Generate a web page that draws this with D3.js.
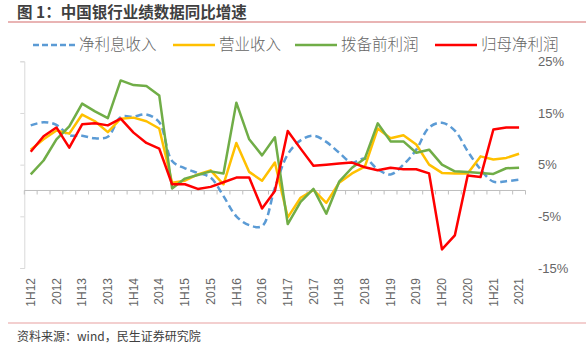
<!doctype html>
<html>
<head>
<meta charset="utf-8">
<script src="https://cdn.jsdelivr.net/npm/d3@7/dist/d3.min.js"></script>
<style>
  body { margin: 0; background: #fff; }
  svg { display: block; font-family: "Liberation Sans", "Noto Sans CJK SC", sans-serif; }
</style>
</head>
<body>
<svg id="chart" width="586" height="345"></svg>
<script>
// quarters from 1H12 to 2021, only every other one gets a label
const quarters = []
for (let y = 12; y <= 21; y++) {
    const q = y == 12 ? ['1H', '3Q', 'FY'] : ['1Q', '1H', '3Q', 'FY']
    q.forEach(p => quarters.push(p == 'FY' ? '20' + y : p + y))
}
const seriesNames = ['净利息收入', '营业收入', '拨备前利润', '归母净利润']
const yTicks = [25, 15, 5, -5, -15]

// 净利息收入
const nii = [12.6, 13.2, 12.7, 10.7, 10.6, 10.1, 10.4, 14.2, 14.3, 14.7, 13.2, 5.7, 4.3, 3.4, 2.5, -1.1,
    -5.0, -6.7, -6.9, 0.5, 7.0, 9.7, 10.6, 9.4, 7.3, 5.4, 6.2, 4.1, 3.1, 5.0, 7.9, 12.2, 13.1, 11.6,
    7.6, 4.1, 1.7, 1.8, 2.1]
// 营业收入
const rev = [7.9, 9.9, 11.6, 11.0, 14.7, 13.4, 11.3, 13.9, 14.1, 13.4, 12.0, 1.5, 1.9, 3.1, 3.9, 1.2,
    9.2, 3.6, 1.9, 5.4, -5.2, -1.4, 0.1, -2.4, 1.5, 3.3, 4.6, 12.0, 10.1, 10.7, 8.9, 5.0, 3.4, 3.3,
    3.3, 6.6, 6.0, 6.3, 7.1]
// 拨备前利润
const ppop = [3.1, 5.8, 9.9, 12.4, 16.8, 15.3, 14.0, 21.3, 20.4, 20.2, 18.4, 0.4, 2.3, 3.0, 3.7, 3.3,
    17.0, 9.9, 6.8, 10.3, -6.5, -2.2, 0.3, -4.5, 1.7, 4.4, 6.2, 13.0, 9.5, 9.5, 7.3, 7.9, 5.0, 3.7,
    3.6, 3.4, 3.2, 4.3, 4.4]
// 归母净利润
const np = [7.5, 10.5, 12.2, 8.3, 12.8, 13.0, 12.6, 13.9, 11.2, 9.2, 8.1, 1.2, 1.2, 0.3, 0.7, 1.6,
    2.5, 2.5, -3.5, -0.1, 11.5, 8.1, 4.8, 5.0, 5.2, 5.4, 4.5, 3.9, 4.4, 4.1, 4.1, 3.3, -11.4, -8.7,
    2.9, 2.6, 11.8, 12.2, 12.2]

const colors = ['#5B9BD5', '#FFC000', '#70AD47', '#FF0000']
const allSeries = [nii, rev, ppop, np]

const svg = d3.select('#chart')
const textGray = '#666666'

// title + rules
svg.append('text')
    .attr('x', 17).attr('y', 18)
    .attr('font-family', '"Noto Sans CJK SC", sans-serif')
    .attr('font-size', 15.5).attr('font-weight', 'bold')
    .attr('fill', '#404040')
    .text('图 1：中国银行业绩数据同比增速')
svg.append('line').attr('x1', 8).attr('x2', 586).attr('y1', 22).attr('y2', 22)
    .attr('stroke', '#D46A6A').attr('stroke-width', 1.2)
svg.append('line').attr('x1', 8).attr('x2', 586).attr('y1', 323).attr('y2', 323)
    .attr('stroke', '#E8A0A0').attr('stroke-width', 1.2)
svg.append('text')
    .attr('x', 17).attr('y', 341)
    .attr('font-family', '"Noto Sans CJK SC", sans-serif')
    .attr('font-size', 12).attr('fill', '#404040')
    .text('资料来源：wind，民生证券研究院')

// scales
const x = d3.scaleBand().domain(quarters).range([24.3, 525.5])
const y = d3.scaleLinear().domain([-15, 25]).range([268, 61.3])
const cx = d => x(d) + x.bandwidth() / 2

// left axis line with ticks, labels drawn on the right like the original
const yAxis = d3.axisLeft(y).tickValues(yTicks).tickSize(4).tickFormat('')
const ya = svg.append('g').attr('transform', 'translate(24.3,0)').call(yAxis)
ya.selectAll('path,line').attr('stroke', '#D9D9D9')
svg.selectAll('.ylab')
    .data(yTicks)
    .enter()
    .append('text')
    .attr('class', 'ylab')
    .attr('x', 538)
    .attr('y', d => y(d))
    .attr('dy', '0.35em')
    .attr('font-size', 13)
    .attr('fill', textGray)
    .text(d => d + '%')

// category axis at zero, tick marks at band edges
const xa = svg.append('g').attr('transform', 'translate(0,' + y(0) + ')')
xa.append('line').attr('x1', 24.3).attr('x2', 525.5)
    .attr('stroke', '#BFBFBF').attr('stroke-width', 1)
const edges = quarters.map(q => x(q)).concat([x.range()[1]])
xa.selectAll('.tk')
    .data(edges)
    .enter()
    .append('line')
    .attr('x1', d => d).attr('x2', d => d)
    .attr('y1', 0).attr('y2', 4)
    .attr('stroke', '#BFBFBF')

// rotated labels along the bottom
svg.selectAll('.xlab')
    .data(quarters.filter((q, i) => i % 2 == 0))
    .enter()
    .append('text')
    .attr('class', 'xlab')
    .attr('transform', d => 'translate(' + cx(d) + ',278) rotate(-90)')
    .attr('text-anchor', 'end')
    .attr('dy', '0.35em')
    .attr('font-size', 12)
    .attr('fill', textGray)
    .text(d => d)

// lines
allSeries.forEach((s, k) => {
    const line = d3.line()
        .x((d, i) => cx(quarters[i]))
        .y(d => y(d))
        .curve(k == 0 ? d3.curveCatmullRom.alpha(0.5) : d3.curveLinear)
    svg.append('path')
        .datum(s)
        .attr('d', line)
        .attr('fill', 'none')
        .attr('stroke', colors[k])
        .attr('stroke-width', 2.5)
        .attr('stroke-linejoin', 'round')
        .attr('stroke-dasharray', k == 0 ? '7,4' : null)
})

// legend
const legX = [33, 173, 295, 435]
const leg = svg.selectAll('.leg')
    .data(seriesNames)
    .enter()
    .append('g')
    .attr('transform', (d, i) => 'translate(' + legX[i] + ',45)')
leg.append('line')
    .attr('x1', 0).attr('x2', 42).attr('y1', 0).attr('y2', 0)
    .attr('stroke', (d, i) => colors[i])
    .attr('stroke-width', 2.5)
    .attr('stroke-dasharray', (d, i) => i == 0 ? '6,3' : null)
leg.append('text')
    .attr('x', 46).attr('dy', '0.35em')
    .attr('font-family', '"Noto Sans CJK SC", sans-serif')
    .attr('font-size', 15.5)
    .attr('font-weight', 300)
    .attr('fill', textGray)
    .text(d => d)
</script>
</body>
</html>
